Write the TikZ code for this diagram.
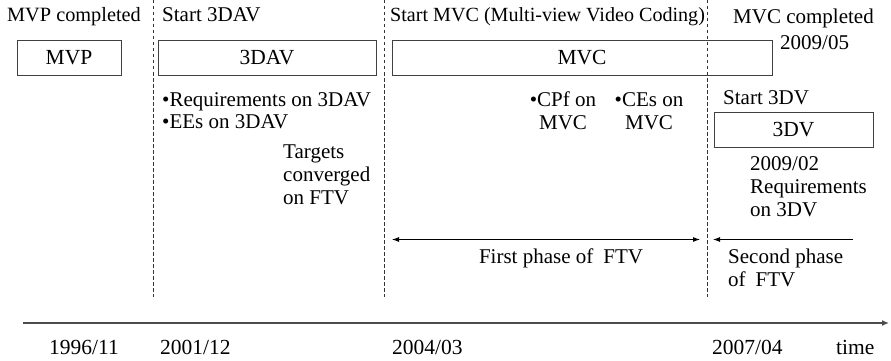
\documentclass[tikz,border=0pt]{standalone}
\usepackage{fontspec}
\setmainfont{Liberation Serif}
\usetikzlibrary{arrows.meta}
\begin{document}
\begin{tikzpicture}[x=1pt,y=-1pt,
  txt/.style={inner sep=0pt,anchor=base west,font=\fontsize{21}{23}\selectfont},
  ctxt/.style={inner sep=0pt,anchor=base,font=\fontsize{21}{23}\selectfont},
  datetxt/.style={inner sep=0pt,anchor=base west,font=\fontsize{21.5}{23}\selectfont},
  phasebox/.style={draw=black!75,line width=0.9pt,inner sep=0pt,font=\fontsize{21.5}{23}\selectfont},
  dashline/.style={draw=black!80,line width=0.8pt,dash pattern=on 3.5pt off 2.5pt},
  axisline/.style={draw=black!70,line width=1.5pt,-{Latex[length=7pt,width=6pt]}},
  spanarrow/.style={draw=black,line width=0.9pt},
  both/.style={{Latex[length=7pt,width=5pt]}-{Latex[length=7pt,width=5pt]}},
  leftonly/.style={{Latex[length=7pt,width=5pt]}-}]
\useasboundingbox (0,0) rectangle (891,361);
% dashed separators
\coordinate (d1t) at (153,0); \coordinate (d1b) at (153,297);
\coordinate (d2t) at (384,0); \coordinate (d2b) at (384,297);
\coordinate (d3t) at (707,0); \coordinate (d3b) at (707,297);
\draw[dashline] (d1t) -- (d1b);
\draw[dashline] (d2t) -- (d2b);
\draw[dashline] (d3t) -- (d3b);
% top labels
\node[txt,font=\fontsize{20.3}{23}\selectfont] (mvpc) at (7,22) {MVP completed};
\node[txt] (s3dav) at (162,22) {Start 3DAV};
\node[txt,font=\fontsize{20.1}{23}\selectfont] (smvc) at (390,22) {Start MVC (Multi-view Video Coding)};
\node[txt] (mvcc) at (733,24) {MVC completed};
\node[txt] (mvcd) at (780,49) {2009/05};
% boxes
\node[phasebox,minimum width=104pt,minimum height=35pt] (mvp) at (69,57.5) {MVP};
\node[phasebox,minimum width=218pt,minimum height=35pt] (dav) at (267,57.5) {3DAV};
\node[phasebox,minimum width=380pt,minimum height=35pt] (mvc) at (582,57.5) {MVC};
\node[phasebox,minimum width=159pt,minimum height=35pt] (tdv) at (793.5,129.5) {3DV};
% 3DAV notes (multi-line nodes: base = last line)
\node[txt] (req) at (162,106) {•Requirements on 3DAV};
\node[txt] (ees) at (162,128) {•EEs on 3DAV};
\node[txt,align=left] (tgt) at (283,204) {Targets\\converged\\on FTV};
% MVC notes
\node[txt,align=center,anchor=base] (cpf) at (563,129) {•CPf on\\MVC};
\node[txt,align=center,anchor=base] (ces) at (649,129) {•CEs on\\MVC};
% 3DV notes
\node[txt] (s3dv) at (723,104) {Start 3DV};
\node[txt,align=left] (req3) at (750,216) {2009/02\\Requirements\\on 3DV};
% phase arrows
\coordinate (p1a) at (392,239.5); \coordinate (p1b) at (700,239.5);
\coordinate (p2a) at (713,239.5); \coordinate (p2b) at (853,239.5);
\draw[spanarrow,both] (p1a) -- (p1b);
\draw[spanarrow,leftonly] (p2a) -- (p2b);
\node[ctxt] (ph1) at (561,263) {First phase of\hspace{10pt}FTV};
\node[txt,align=left] (ph2) at (728,286) {Second phase\\of\hspace{10pt}FTV};
% time axis
\coordinate (ax0) at (23,323); \coordinate (ax1) at (889,323);
\draw[axisline] (ax0) -- (ax1);
\node[datetxt] (t1) at (49,354) {1996/11};
\node[datetxt] (t2) at (160,354) {2001/12};
\node[datetxt] (t3) at (392,354) {2004/03};
\node[datetxt] (t4) at (712,354) {2007/04};
\node[datetxt] (tm) at (836,354) {time};
\end{tikzpicture}
\end{document}
